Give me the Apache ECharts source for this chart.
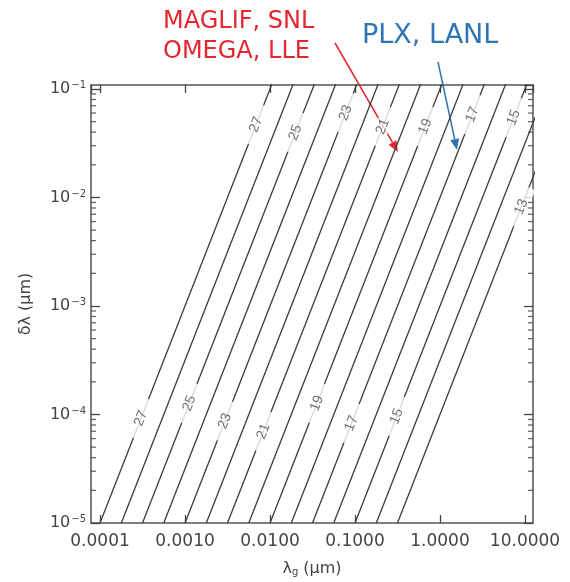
<!DOCTYPE html>
<html>
<head>
<meta charset="utf-8">
<script src="https://cdn.jsdelivr.net/npm/echarts@6/dist/echarts.min.js"></script>
<style>
  html, body { margin: 0; padding: 0; background: #fff; }
  #main { width: 570px; height: 582px; }
</style>
</head>
<body>
<div id="main"></div>
<script>
// contour levels, left to right
const levels = [27, 26, 25, 24, 23, 22, 21, 20, 19, 18, 17, 16, 15, 14, 13];
// lambda where each contour crosses delta-lambda = 1e-5 (bottom edge)
const xAtLow = [0.0001, 0.000178, 0.000316, 0.000562, 0.001, 0.00178, 0.00316, 0.00562,
                0.01, 0.0178, 0.0316, 0.0562, 0.1, 0.178, 0.316];
// lambda where each contour would cross delta-lambda = 1 (above the frame)
const xAtHigh = [0.0316, 0.0562, 0.1, 0.178, 0.316, 0.562, 1, 1.78,
                 3.16, 5.62, 10, 17.8, 31.6, 56.2, 100];
const yLow = 1e-5, yHigh = 1;

// contour labels (only odd levels) and the delta-lambda where they sit
const labelLevels = [27, 25, 23, 21, 19, 17, 15, 13];
const labelYUpper = [0.047, 0.0397, 0.0604, 0.0451, 0.0451, 0.058, 0.0544, 0.0082];
const labelYLower = [9.2e-5, 1.27e-4, 8.7e-5, 7.0e-5, 1.27e-4, 8.3e-5, 9.6e-5, null];

const xMin = 7.83e-5, xMax = 12.42;
const yMin = 1e-5, yMax = 0.1088;

const chartDom = document.getElementById('main');
const chart = echarts.init(chartDom);

// position along a contour, interpolated in log space
function xOnLine(i, y) {
  const t = (Math.log10(y) - Math.log10(yLow)) / (Math.log10(yHigh) - Math.log10(yLow));
  const lx = Math.log10(xAtLow[i]) + t * (Math.log10(xAtHigh[i]) - Math.log10(xAtLow[i]));
  return Math.pow(10, lx);
}

const labelData = [];
labelLevels.forEach((lv, k) => {
  const i = levels.indexOf(lv);
  [labelYUpper[k], labelYLower[k]].forEach(y => {
    if (y != null) labelData.push([xOnLine(i, y), y, String(lv)]);
  });
});

// minor ticks 2..9 on the y axis
const minorY = [];
for (let e = -5; e < 0; e++) {
  for (let m = 2; m <= 9; m++) {
    const v = m * Math.pow(10, e);
    if (v < yMax) minorY.push(v);
  }
}

const frame = { color: '#555', width: 1.5 };
const tickStyle = { color: '#444', width: 1.3 };
const font = 'DejaVu Sans, sans-serif';
const txt = '#444';

const lineSeries = levels.map((lv, i) => ({
  type: 'line',
  name: String(lv),
  data: [[xAtLow[i], yLow], [xAtHigh[i], yHigh]],
  symbol: 'none',
  clip: true,
  silent: true,
  lineStyle: { color: '#3a3a3a', width: 1.3 },
  z: 2
}));

function minorTickSeries(xEdge, dir) {
  return {
    type: 'scatter',
    silent: true,
    clip: false,
    data: minorY.map(v => [xEdge, v]),
    symbol: 'rect',
    symbolSize: [5, 1.3],
    symbolOffset: [dir * 2.5, 0],
    itemStyle: { color: '#444' },
    z: 6
  };
}

function arrow(x1, y1, x2, y2, color) {
  const a = Math.atan2(y2 - y1, x2 - x1);
  const L = 11, W = 4.5;
  const bx = x2 - L * Math.cos(a), by = y2 - L * Math.sin(a);
  return [
    { type: 'line', shape: { x1: x1, y1: y1, x2: bx, y2: by }, style: { stroke: color, lineWidth: 1.5 } },
    { type: 'polygon', shape: { points: [[x2, y2],
        [bx + W * Math.sin(a), by - W * Math.cos(a)],
        [bx - W * Math.sin(a), by + W * Math.cos(a)]] }, style: { fill: color } }
  ];
}

const red = '#e5262f', blue = '#2f74b3';

const option = {
  animation: false,
  backgroundColor: '#fff',
  grid: { left: 91, right: 37, top: 85, bottom: 54 },
  xAxis: [{
    type: 'log', logBase: 10, min: xMin, max: xMax, position: 'bottom',
    name: 'λ{sub|g} (μm)', nameLocation: 'middle', nameGap: 37,
    nameTextStyle: { fontFamily: font, fontSize: 16, color: txt,
      rich: { sub: { fontSize: 10, verticalAlign: 'bottom', padding: [7, 0, 0, 0], color: txt, fontFamily: font } } },
    axisLine: { show: true, lineStyle: frame },
    axisTick: { show: true, inside: true, length: 8, lineStyle: tickStyle },
    axisLabel: { showMinLabel: false, showMaxLabel: false, margin: 10, fontSize: 17, color: txt, fontFamily: font,
      formatter: v => v.toFixed(4) },
    splitLine: { show: false }
  }, {
    type: 'log', logBase: 10, min: xMin, max: xMax, position: 'top',
    axisLine: { show: true, lineStyle: frame },
    axisTick: { show: true, inside: true, length: 8, lineStyle: tickStyle },
    axisLabel: { show: false },
    splitLine: { show: false }
  }],
  yAxis: [{
    type: 'log', logBase: 10, min: yMin, max: yMax, position: 'left',
    name: 'δλ (μm)', nameLocation: 'middle', nameGap: 57,
    nameTextStyle: { fontFamily: font, fontSize: 16, color: txt },
    axisLine: { show: true, lineStyle: frame },
    axisTick: { show: true, inside: true, length: 9, lineStyle: tickStyle },
    axisLabel: { showMaxLabel: false, margin: 5, color: txt, fontFamily: font,
      formatter: v => '{b|10}{s|−' + Math.abs(Math.round(Math.log10(v))) + '}',
      rich: {
        b: { fontSize: 16, fontFamily: font, color: txt },
        s: { fontSize: 10, fontFamily: font, color: txt, verticalAlign: 'top', padding: [0, 0, 7, 1] }
      } },
    splitLine: { show: false }
  }, {
    type: 'log', logBase: 10, min: yMin, max: yMax, position: 'right',
    axisLine: { show: true, lineStyle: frame },
    axisTick: { show: true, inside: true, length: 9, lineStyle: tickStyle },
    axisLabel: { show: false },
    splitLine: { show: false }
  }],
  series: lineSeries.concat([
    minorTickSeries(xMin, 1),
    minorTickSeries(xMax, -1),
    {
      type: 'scatter',
      id: 'labels',
      data: labelData,
      symbolSize: 1,
      silent: true,
      itemStyle: { color: 'transparent' },
      label: {
        show: true, position: 'inside', rotate: 69,
        formatter: p => p.value[2],
        fontSize: 14, color: '#505050', fontFamily: 'Liberation Sans, Arial, sans-serif',
        backgroundColor: '#fff', padding: [0, 13]
      },
      z: 5
    }
  ]),
  graphic: [
    { type: 'text', left: 163, top: 10, style: { text: 'MAGLIF, SNL', fill: red, font: '24px ' + font } },
    { type: 'text', left: 163, top: 40, style: { text: 'OMEGA, LLE', fill: red, font: '24px ' + font } },
    { type: 'text', left: 362, top: 22, style: { text: 'PLX, LANL', fill: blue, font: '27px ' + font } }
  ].concat(arrow(335, 43, 398, 152, red), arrow(438, 62, 457, 150, blue))
};

chart.setOption(option);

// rotate contour labels along the drawn lines
const p0 = chart.convertToPixel({ gridIndex: 0 }, [xAtLow[0], yLow]);
const p1 = chart.convertToPixel({ gridIndex: 0 }, [xOnLine(0, 0.01), 0.01]);
const ang = Math.atan2(p0[1] - p1[1], p1[0] - p0[0]) * 180 / Math.PI;
chart.setOption({ series: [{ id: 'labels', label: { rotate: ang } }] });
</script>
</body>
</html>
